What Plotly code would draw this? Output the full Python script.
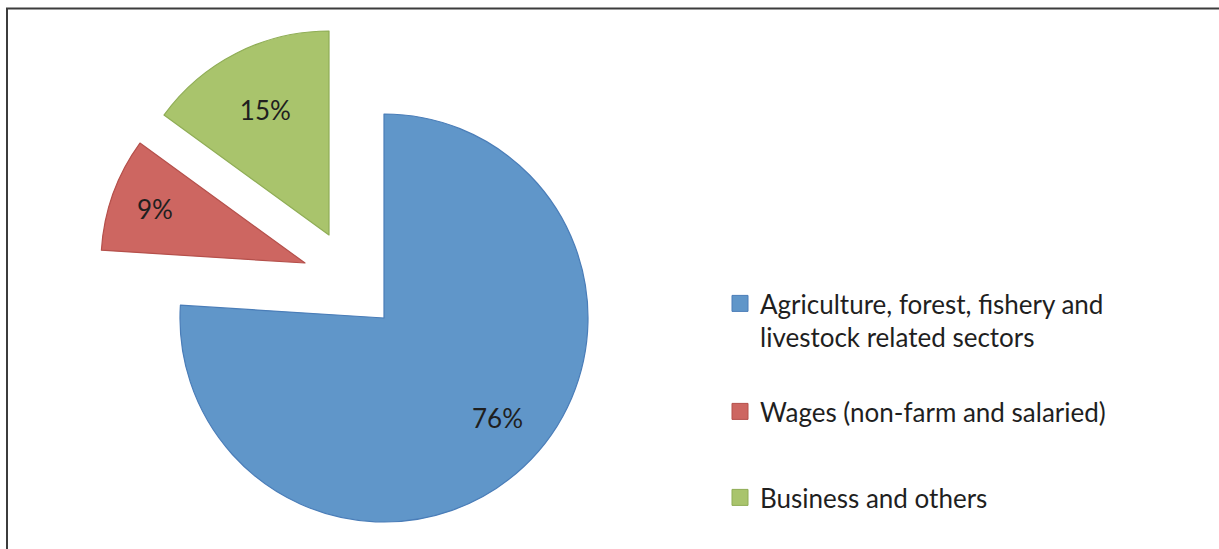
import plotly.graph_objects as go

# ---- data ----
labels = [
    "Agriculture, forest, fishery and<br>livestock related sectors",
    "Wages (non-farm and salaried)",
    "Business and others",
]
values = [76, 9, 15]
pct_text = ["76%", "9%", "15%"]

# ---- style ----
fills = ["#6096C9", "#CD6661", "#A9C46C"]
edges = ["#4A7DB8", "#B5504B", "#8FAD55"]
W, H = 1219, 549
R = 204
# pixel centres of each (exploded) slice's pie
centres = [(384, 318), (305, 263), (329, 235)]
# label of the big slice is placed by hand (pixel position), others by the pie
big_label_px = (497, 418)
legend_tops = [280, 388, 474]
FONT = "Lato, 'Open Sans', sans-serif"
TXT = "#1f1f1f"

fig = go.Figure()

for i, (cx, cy) in enumerate(centres):
    n = len(values)
    cols = [fills[j] if j == i else "rgba(0,0,0,0)" for j in range(n)]
    lcols = [edges[j] if j == i else "rgba(0,0,0,0)" for j in range(n)]
    lw = [1.2 if j == i else 0 for j in range(n)]
    txt = [pct_text[j] if (j == i and i != 0) else "" for j in range(n)]
    fig.add_trace(go.Pie(
        labels=labels, values=values, sort=False, direction="clockwise", rotation=0,
        marker=dict(colors=cols, line=dict(color=lcols, width=lw)),
        text=txt, textinfo="text", textposition="inside",
        insidetextorientation="horizontal",
        textfont=dict(family=FONT, size=26, color=TXT),
        showlegend=False, hoverinfo="label+percent",
        domain=dict(x=[(cx - R) / W, (cx + R) / W],
                    y=[(H - cy - R) / H, (H - cy + R) / H]),
    ))

# legend entries, one legend each so they can be spaced like the original
legend_names = ["legend", "legend2", "legend3"]
for i, lab in enumerate(labels):
    fig.add_trace(go.Scatter(
        x=[None], y=[None], mode="markers", name=lab, legend=legend_names[i],
        marker=dict(symbol="square", size=16, color=fills[i],
                    line=dict(color=edges[i], width=1)),
        showlegend=True, hoverinfo="skip",
    ))

legend_style = dict(
    x=720 / W, xanchor="left", yanchor="top",
    font=dict(family=FONT, size=26, color=TXT),
    valign="top", bgcolor="rgba(0,0,0,0)",
)

fig.update_layout(
    width=W, height=H,
    margin=dict(l=0, r=0, t=0, b=0),
    paper_bgcolor="white", plot_bgcolor="white",
    xaxis=dict(visible=False), yaxis=dict(visible=False),
    font=dict(family=FONT, color=TXT),
    legend=dict(y=1 - legend_tops[0] / H, **legend_style),
    legend2=dict(y=1 - legend_tops[1] / H, **legend_style),
    legend3=dict(y=1 - legend_tops[2] / H, **legend_style),
    shapes=[dict(type="rect", xref="paper", yref="paper",
                 x0=7 / W, x1=1.05, y0=-0.05, y1=1 - 8.5 / H,
                 line=dict(color="#3C3C3C", width=2), fillcolor="rgba(0,0,0,0)",
                 layer="above")],
    annotations=[dict(text=pct_text[0], xref="paper", yref="paper",
                      x=big_label_px[0] / W, y=1 - big_label_px[1] / H,
                      xanchor="center", yanchor="middle", showarrow=False,
                      font=dict(family=FONT, size=26, color=TXT))],
)

fig.write_html("out.html")
